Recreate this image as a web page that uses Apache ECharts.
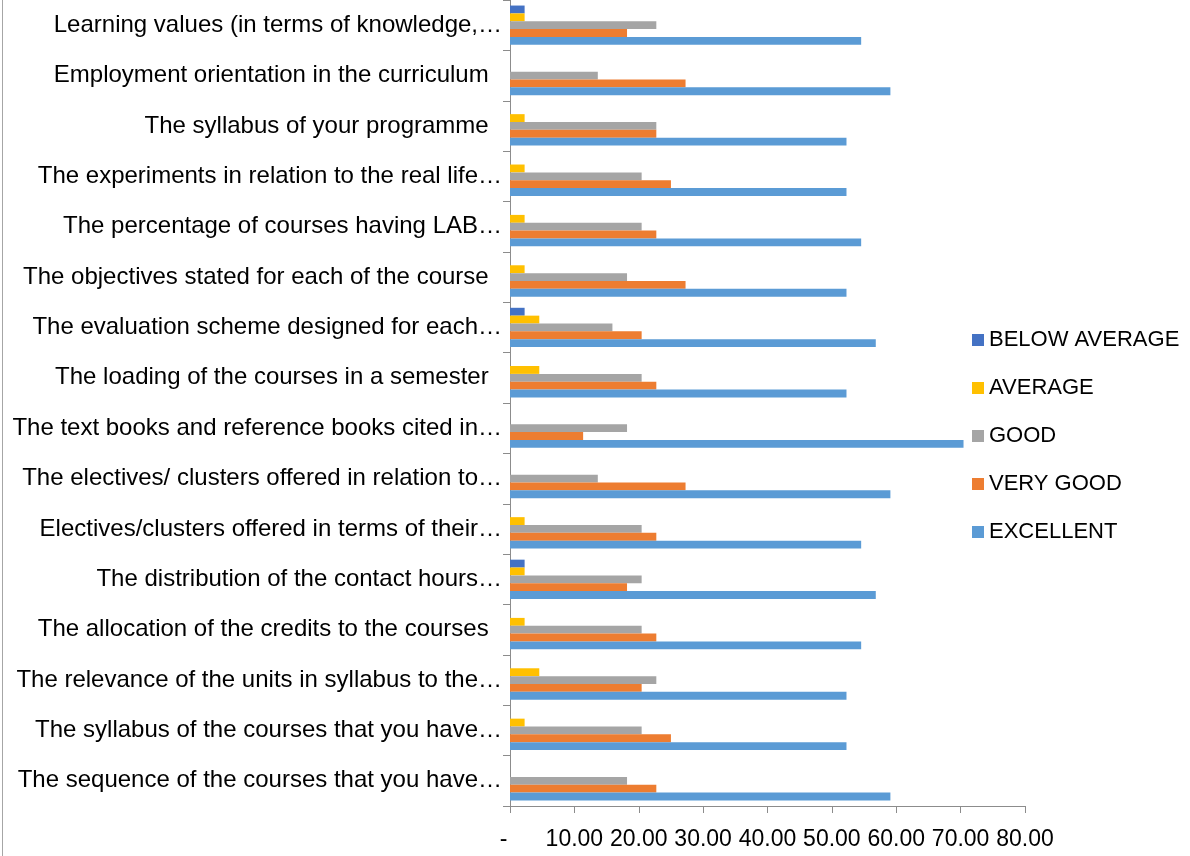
<!DOCTYPE html>
<html>
<head>
<meta charset="utf-8">
<script src="https://cdn.jsdelivr.net/npm/echarts@6/dist/echarts.min.js"></script>
<style>
  html, body { margin: 0; padding: 0; background: #fff; }
  #chart { width: 1190px; height: 856px; }
</style>
</head>
<body>
<div id="chart"></div>
<script>
// categories, bottom to top (as the category axis draws them)
const categories = [
  "The sequence of the courses that you have…",
  "The syllabus of the courses that you have…",
  "The relevance of the units in syllabus to the…",
  "The allocation of the credits to the courses  ",
  "The distribution of the contact hours…",
  "Electives/clusters offered in terms of their…",
  "The electives/ clusters offered in relation to…",
  "The text books and reference books cited in…",
  "The loading of the courses in a semester  ",
  "The evaluation scheme designed for each…",
  "The objectives stated for each of the course  ",
  "The percentage of courses having LAB…",
  "The experiments in relation to the real life…",
  "The syllabus of your programme  ",
  "Employment orientation in the curriculum  ",
  "Learning values (in terms of knowledge,…"
];

const excellent = [59.09, 52.27, 52.27, 54.55, 56.82, 54.55, 59.09, 70.45, 52.27, 56.82, 52.27, 54.55, 52.27, 52.27, 59.09, 54.55];
const veryGood  = [22.73, 25.00, 20.45, 22.73, 18.18, 22.73, 27.27, 11.36, 22.73, 20.45, 27.27, 22.73, 25.00, 22.73, 27.27, 18.18];
const good      = [18.18, 20.45, 22.73, 20.45, 20.45, 20.45, 13.64, 18.18, 20.45, 15.91, 18.18, 20.45, 20.45, 22.73, 13.64, 22.73];
const average   = [0, 2.27, 4.55, 2.27, 2.27, 2.27, 0, 0, 4.55, 4.55, 2.27, 2.27, 2.27, 2.27, 0, 2.27];
const belowAvg  = [0, 0, 0, 0, 2.27, 0, 0, 0, 0, 2.27, 0, 0, 0, 0, 0, 2.27];

const xTicks = [0, 10, 20, 30, 40, 50, 60, 70, 80];

const font = "'Liberation Sans', Arial, sans-serif";

const chart = echarts.init(document.getElementById("chart"));

function bar(name, data, color) {
  return {
    name: name,
    type: "bar",
    data: data,
    barGap: "0%",
    barCategoryGap: "22%",
    itemStyle: { color: color },
    animation: false
  };
}

const option = {
  backgroundColor: "#fff",
  grid: { left: 510, right: 165, top: 0, bottom: 50, containLabel: false },
  legend: {
    orient: "vertical",
    left: 967,
    top: 324,
    itemWidth: 12,
    itemHeight: 12,
    itemGap: 26,
    icon: "rect",
    data: ["BELOW AVERAGE", "AVERAGE", "GOOD", "VERY GOOD", "EXCELLENT"],
    textStyle: { fontFamily: font, fontSize: 22, color: "#000", lineHeight: 22 }
  },
  xAxis: {
    type: "value",
    min: xTicks[0],
    max: xTicks[xTicks.length - 1],
    interval: 10,
    splitLine: { show: false },
    axisLine: { show: true, lineStyle: { color: "#8c8c8c", width: 1 } },
    axisTick: { show: true, length: 7, lineStyle: { color: "#8c8c8c" } },
    axisLabel: {
      margin: 22,
      fontFamily: font,
      fontSize: 23,
      color: "#000",
      formatter: function (v) { return v === 0 ? "-  " : v.toFixed(2); }
    }
  },
  yAxis: {
    type: "category",
    data: categories,
    axisLine: { show: true, lineStyle: { color: "#8c8c8c", width: 1 } },
    axisTick: { show: true, length: 7, lineStyle: { color: "#8c8c8c" } },
    axisLabel: { margin: 8, fontFamily: font, fontSize: 24, color: "#000", padding: [4, 0, 0, 0] }
  },
  // first series sits at the top of each band
  series: [
    bar("BELOW AVERAGE", belowAvg, "#4472C4"),
    bar("AVERAGE", average, "#FFC000"),
    bar("GOOD", good, "#A5A5A5"),
    bar("VERY GOOD", veryGood, "#ED7D31"),
    bar("EXCELLENT", excellent, "#5B9BD5")
  ],
  graphic: [
    { type: "line", shape: { x1: 2.5, y1: 0, x2: 2.5, y2: 856 }, style: { stroke: "#a6a6a6", lineWidth: 1 } }
  ]
};

chart.setOption(option);
</script>
</body>
</html>
